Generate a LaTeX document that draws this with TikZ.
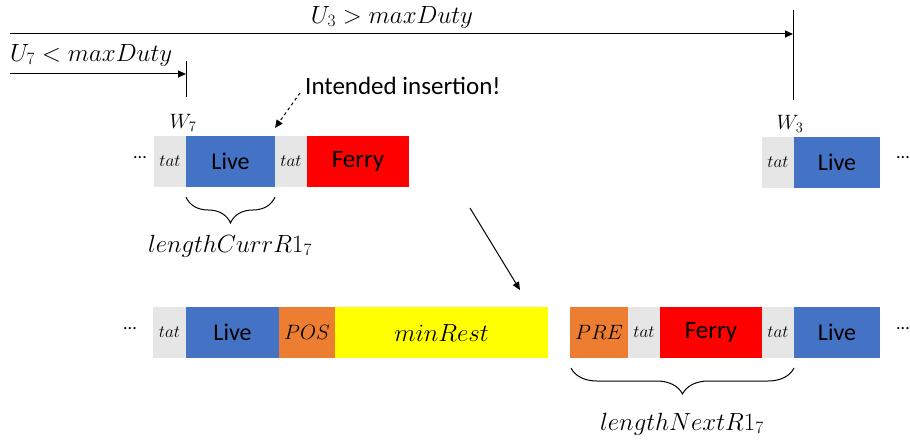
\documentclass[tikz,border=0pt]{standalone}
\usepackage{fontspec}
\setsansfont{Carlito}
\usetikzlibrary{arrows.meta,decorations.pathreplacing}
\definecolor{livecol}{HTML}{4472C4}
\definecolor{ferrycol}{HTML}{FF0000}
\definecolor{tatcol}{HTML}{E7E6E6}
\definecolor{poscol}{HTML}{ED7D31}
\definecolor{restcol}{HTML}{FFFF00}
\tikzset{
  seg/.style={rectangle, inner sep=0pt, outer sep=0pt, anchor=north west,
    minimum height=51pt, font=\sffamily\fontsize{24}{26}\selectfont},
  tatbox/.style={seg, fill=tatcol, font=\fontsize{18}{20}\selectfont},
  livebox/.style={seg, fill=livecol},
  ferrybox/.style={seg, fill=ferrycol, font=\sffamily\fontsize{25}{27}\selectfont},
  posbox/.style={seg, fill=poscol, font=\fontsize{20}{22}\selectfont},
  restbox/.style={seg, fill=restcol, font=\fontsize{23}{25}\selectfont},
  mlabel/.style={inner sep=0pt, font=\fontsize{24}{26}\selectfont},
  wlabel/.style={inner sep=0pt, font=\fontsize{21}{23}\selectfont},
  dots/.style={inner sep=0pt, font=\sffamily\fontsize{18}{20}\selectfont},
  arr/.style={line width=1pt, -{Triangle[length=8pt,width=7pt]}},
  tick/.style={line width=1pt},
  curly/.style={line width=1pt, decorate,
    decoration={brace, mirror, amplitude=26pt, aspect=0.5}}
}
\begin{document}
\begin{tikzpicture}[x=1pt,y=-1pt]
\useasboundingbox (0,0) rectangle (910,444);

% top row, current round
\node[dots] (d1) at (140,158) {...};
\node[tatbox, minimum width=32pt] (t1) at (154,136) {$tat$};
\node[livebox, minimum width=89pt] (l1) at (186,136) {Live};
\node[tatbox, minimum width=32pt] (t2) at (275,136) {$tat$};
\node[ferrybox, minimum width=102pt] (f1) at (307,136) {Ferry};
\node[wlabel] (w7) at (183,123) {$W_7$};

% top row, next round
\node[tatbox, minimum width=32pt] (t3) at (762,137) {$tat$};
\node[livebox, minimum width=86pt] (l2) at (794,137) {Live};
\node[dots, anchor=east] (d2) at (910,158) {...};
\node[wlabel] (w3) at (790,124) {$W_3$};

% utilisation markers
\coordinate (u3s) at (10,34);
\coordinate (u3e) at (793,34);
\coordinate (u3top) at (793,10);
\coordinate (u3bot) at (793,100);
\draw[tick] (u3top) -- (u3bot);
\draw[arr] (u3s) -- (u3e);
\node[mlabel] (u3l) at (392,17) {$U_3 > maxDuty$};

\coordinate (u7s) at (10,74);
\coordinate (u7e) at (186,74);
\coordinate (u7top) at (186,61);
\coordinate (u7bot) at (186,97);
\draw[tick] (u7top) -- (u7bot);
\draw[arr] (u7s) -- (u7e);
\node[mlabel, anchor=west] (u7l) at (10,55) {$U_7 < maxDuty$};

% intended insertion
\node[inner sep=0pt, anchor=west, font=\sffamily\fontsize{25}{27}\selectfont] (ins) at (305,86) {Intended insertion!};
\coordinate (insfrom) at (300,93);
\coordinate (insto) at (275,128);
\draw[line width=1pt, dashed, -{Triangle[length=8pt,width=7pt]}] (insfrom) -- (insto);

% brace below Live
\draw[curly] (186,197) -- (275,197);
\node[mlabel] (lc) at (230,246) {$lengthCurrR1_7$};

% transition arrow
\coordinate (tr1) at (470,208);
\coordinate (tr2) at (520,290);
\draw[arr] (tr1) -- (tr2);

% bottom row
\node[dots] (d3) at (130,329) {...};
\node[tatbox, minimum width=33pt] (t4) at (153,307) {$tat$};
\node[livebox, minimum width=93pt] (l3) at (186,307) {Live};
\node[posbox, minimum width=56pt] (p1) at (279,307) {$POS$};
\node[restbox, minimum width=213pt] (r1) at (335,307) {$minRest$};

\node[posbox, minimum width=58pt] (p2) at (570,307) {$PRE$};
\node[tatbox, minimum width=32pt] (t5) at (628,307) {$tat$};
\node[ferrybox, minimum width=102pt] (f2) at (660,307) {Ferry};
\node[tatbox, minimum width=32pt] (t6) at (762,307) {$tat$};
\node[livebox, minimum width=86pt] (l4) at (794,307) {Live};
\node[dots, anchor=east] (d4) at (910,329) {...};

% brace below next round
\draw[curly] (571,368) -- (794,368);
\node[mlabel] (ln) at (682,424) {$lengthNextR1_7$};
\end{tikzpicture}
\end{document}
